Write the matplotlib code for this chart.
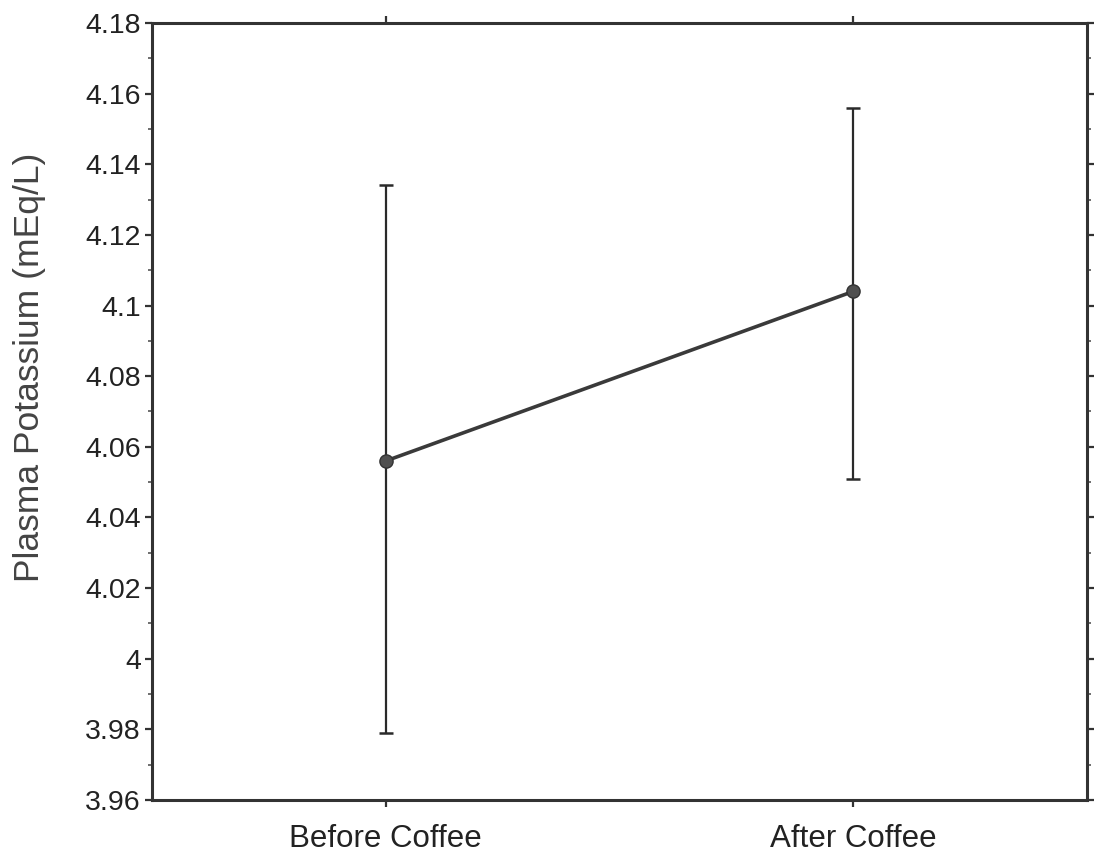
import matplotlib
matplotlib.use('Agg')
import matplotlib.pyplot as plt
from matplotlib.ticker import MultipleLocator
import numpy as np

# plasma potassium before / after coffee, mean with error range
conditions = ['Before Coffee', 'After Coffee']
mean_k = [4.056, 4.104]
upper_k = [4.134, 4.156]
lower_k = [3.979, 4.051]
ytick_vals = [3.96, 3.98, 4.00, 4.02, 4.04, 4.06, 4.08, 4.10, 4.12, 4.14, 4.16, 4.18]

plt.rcParams['font.family'] = ['Liberation Sans', 'DejaVu Sans']

fig = plt.figure(figsize=(10.96, 8.56), dpi=100)
ax = fig.add_axes([152 / 1096, 1 - 800 / 856, (1087 - 152) / 1096, (800 - 23) / 856])

x = np.arange(len(conditions))
mean_arr = np.array(mean_k)
yerr = [mean_arr - np.array(lower_k), np.array(upper_k) - mean_arr]

ax.errorbar(x, mean_k, yerr=yerr, fmt='none', ecolor='#2a2a2a',
            elinewidth=1.6, capsize=5, capthick=1.8, zorder=2)
ax.plot(x, mean_k, color='#3a3a3a', linewidth=2.6, marker='o',
        markersize=9.5, markerfacecolor='#505050', markeredgecolor='#333333', zorder=3)

ax.set_xlim(-0.5, 1.5)
ax.set_ylim(3.96, 4.18)
ax.set_xticks(x)
ax.set_xticklabels(conditions, fontsize=22.5, color='#222222')
ax.yaxis.set_minor_locator(MultipleLocator(0.01))
ax.set_yticks(ytick_vals)
ax.set_yticklabels(['%g' % v for v in ytick_vals], fontsize=20.5, color='#222222')

ax.tick_params(axis='both', which='major', direction='out', length=5, width=1.6,
               color='#333333', top=True, right=True)
ax.tick_params(axis='y', which='major', pad=3)
ax.tick_params(axis='y', which='minor', direction='out', length=3, width=1.2,
               color='#555555', right=True)
ax.tick_params(axis='x', which='major', pad=12)

for side in ['left', 'right', 'top', 'bottom']:
    ax.spines[side].set_linewidth(2.2)
    ax.spines[side].set_color('#333333')

fig.text(30 / 1096, 1 - 367 / 856, 'Plasma Potassium (mEq/L)', rotation=90,
         fontsize=25.5, color='#444444', ha='center', va='center')

fig.savefig('out.png', dpi=100)
